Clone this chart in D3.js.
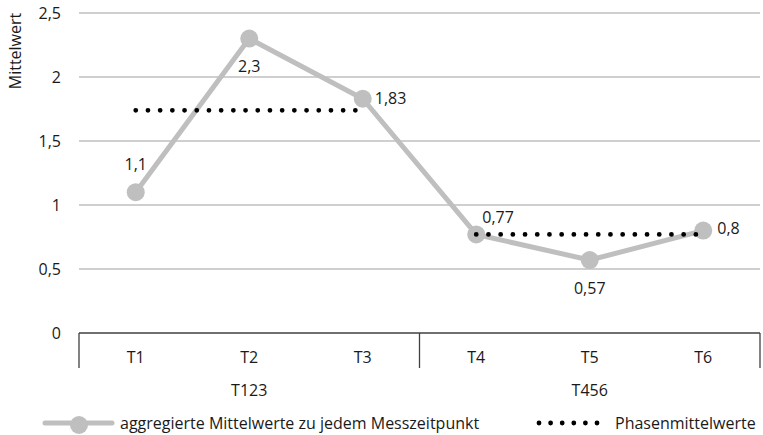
<!DOCTYPE html>
<html>
<head>
<meta charset="utf-8">
<script src="https://d3js.org/d3.v7.min.js"></script>
<style>
  html, body { margin: 0; padding: 0; background: #fff; }
  svg text { font-family: "Open Sans", "Noto Sans", sans-serif; fill: #1a1a1a; font-size: 16px; }
</style>
</head>
<body>
<svg id="chart" width="763" height="435"></svg>
<script>
// Data
const categories = ['T1', 'T2', 'T3', 'T4', 'T5', 'T6'];
const groups = ['T123', 'T456'];
const groupOf = ['T123', 'T123', 'T123', 'T456', 'T456', 'T456'];
const means = [1.1, 2.3, 1.83, 0.77, 0.57, 0.8];
const meanLabels = ['1,1', '2,3', '1,83', '0,77', '0,57', '0,8'];
const phaseMeans = [1.74, 0.77];
const yTicks = [0, 0.5, 1, 1.5, 2, 2.5];
const yTickLabels = ['0', '0,5', '1', '1,5', '2', '2,5'];

const svg = d3.select('#chart');
const margin = { top: 13, right: 3, bottom: 102, left: 79 };
const width = 763, height = 435;

const x = d3.scaleBand()
  .domain(categories)
  .range([margin.left, width - margin.right])
  .padding(0);

const y = d3.scaleLinear()
  .domain([0, 2.5])
  .range([height - margin.bottom, margin.top]);

const lineColor = '#bfbfbf';
const cx = d => x(d) + x.bandwidth() / 2;

// Gridlines
svg.append('g')
  .selectAll('line')
  .data(yTicks.filter(t => t > 0))
  .enter().append('line')
  .attr('x1', margin.left)
  .attr('x2', width - margin.right)
  .attr('y1', d => y(d))
  .attr('y2', d => y(d))
  .attr('stroke', '#bfbfbf')
  .attr('stroke-width', 1.5);

// Y tick labels
svg.append('g')
  .selectAll('text')
  .data(yTicks)
  .enter().append('text')
  .attr('x', 61)
  .attr('y', d => y(d))
  .attr('dy', '0.35em')
  .attr('text-anchor', 'end')
  .text((d, i) => yTickLabels[i]);

// Y axis title
svg.append('text')
  .attr('transform', `translate(21, 51) rotate(-90)`)
  .attr('text-anchor', 'middle')
  .text('Mittelwert');

// X axis line
const y0 = y(0);
const axisColor = '#404040';
svg.append('line')
  .attr('x1', margin.left).attr('x2', width - margin.right)
  .attr('y1', y0).attr('y2', y0)
  .attr('stroke', axisColor).attr('stroke-width', 1.3);

// Group dividers (left edge of each group + final right edge)
const groupStarts = groups.map(g => categories[groupOf.indexOf(g)]);
const dividerX = groupStarts.map(c => x(c)).concat([x(categories[categories.length - 1]) + x.bandwidth()]);
svg.append('g')
  .selectAll('line')
  .data(dividerX)
  .enter().append('line')
  .attr('x1', d => d).attr('x2', d => d)
  .attr('y1', y0).attr('y2', y0 + 35)
  .attr('stroke', axisColor).attr('stroke-width', 1.3);

// Category labels
svg.append('g')
  .selectAll('text')
  .data(categories)
  .enter().append('text')
  .attr('x', d => cx(d))
  .attr('y', y0 + 24)
  .attr('dy', '0.35em')
  .attr('text-anchor', 'middle')
  .text(d => d);

// Group labels
svg.append('g')
  .selectAll('text')
  .data(groups)
  .enter().append('text')
  .attr('x', g => {
    const cats = categories.filter((c, i) => groupOf[i] === g);
    return (cx(cats[0]) + cx(cats[cats.length - 1])) / 2;
  })
  .attr('y', y0 + 57)
  .attr('dy', '0.35em')
  .attr('text-anchor', 'middle')
  .text(g => g);

// Mean line
const line = d3.line()
  .x((d, i) => cx(categories[i]))
  .y(d => y(d));

svg.append('path')
  .datum(means)
  .attr('d', line)
  .attr('fill', 'none')
  .attr('stroke', lineColor)
  .attr('stroke-width', 5)
  .attr('stroke-linejoin', 'round');

svg.append('g')
  .selectAll('circle')
  .data(means)
  .enter().append('circle')
  .attr('cx', (d, i) => cx(categories[i]))
  .attr('cy', d => y(d))
  .attr('r', 9)
  .attr('fill', lineColor);

// Phase mean dotted lines
const dotted = svg.append('g');
groups.forEach((g, gi) => {
  const cats = categories.filter((c, i) => groupOf[i] === g);
  dotted.append('line')
    .attr('x1', cx(cats[0]))
    .attr('x2', cx(cats[cats.length - 1]) - 6)
    .attr('y1', y(phaseMeans[gi]))
    .attr('y2', y(phaseMeans[gi]))
    .attr('stroke', '#000')
    .attr('stroke-width', 4.8)
    .attr('stroke-linecap', 'round')
    .attr('stroke-dasharray', '0 12.2');
});

// Data labels
const labelPos = [
  { dx: 0, dy: -28, anchor: 'middle' },
  { dx: 0, dy: 28, anchor: 'middle' },
  { dx: 12, dy: 0, anchor: 'start' },
  { dx: 6, dy: -17, anchor: 'start' },
  { dx: 0, dy: 28, anchor: 'middle' },
  { dx: 14, dy: -2, anchor: 'start' }
];
svg.append('g')
  .selectAll('text')
  .data(means)
  .enter().append('text')
  .attr('x', (d, i) => cx(categories[i]) + labelPos[i].dx)
  .attr('y', (d, i) => y(d) + labelPos[i].dy)
  .attr('dy', '0.35em')
  .attr('text-anchor', (d, i) => labelPos[i].anchor)
  .text((d, i) => meanLabels[i]);

// Legend
const ly = 423;
const legend = svg.append('g');
legend.append('line')
  .attr('x1', 45).attr('x2', 112)
  .attr('y1', ly).attr('y2', ly)
  .attr('stroke', lineColor).attr('stroke-width', 5).attr('stroke-linecap', 'round');
legend.append('circle')
  .attr('cx', 79).attr('cy', ly + 2).attr('r', 9).attr('fill', lineColor);
legend.append('text')
  .attr('x', 120).attr('y', ly).attr('dy', '0.35em')
  .text('aggregierte Mittelwerte zu jedem Messzeitpunkt');
legend.append('line')
  .attr('x1', 539).attr('x2', 600)
  .attr('y1', ly).attr('y2', ly)
  .attr('stroke', '#000').attr('stroke-width', 4.8)
  .attr('stroke-linecap', 'round').attr('stroke-dasharray', '0 11.6');
legend.append('text')
  .attr('x', 615).attr('y', ly).attr('dy', '0.35em')
  .text('Phasenmittelwerte');
</script>
</body>
</html>
